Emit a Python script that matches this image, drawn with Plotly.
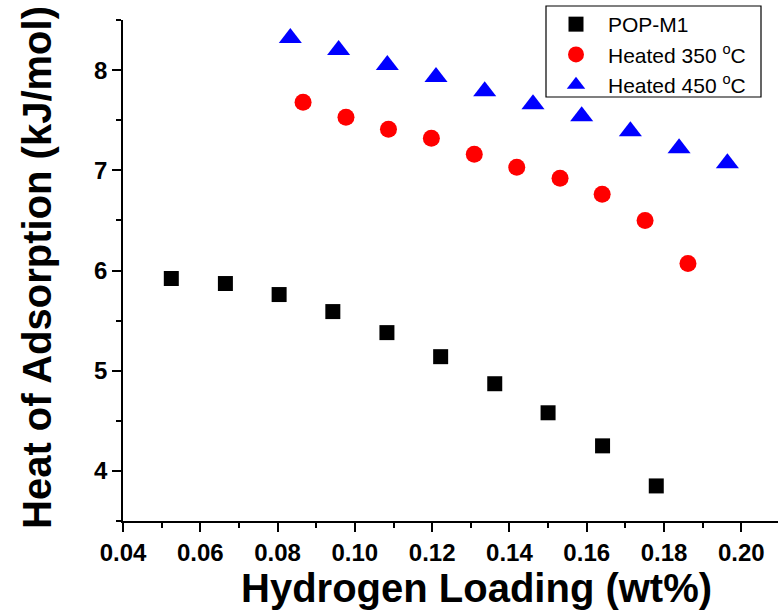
import plotly.graph_objects as go

# Hydrogen loading (wt%) and isosteric heat of adsorption (kJ/mol)
pop_x = [0.0525, 0.0665, 0.0804, 0.0943, 0.1083, 0.1222, 0.1362, 0.1500, 0.1641, 0.1780]
pop_y = [5.92, 5.87, 5.76, 5.59, 5.38, 5.14, 4.87, 4.58, 4.25, 3.85]

h350_x = [0.0866, 0.0977, 0.1087, 0.1198, 0.1309, 0.1419, 0.1531, 0.1640, 0.1751, 0.1862]
h350_y = [7.68, 7.53, 7.41, 7.32, 7.16, 7.03, 6.92, 6.76, 6.50, 6.07]

h450_x = [0.0833, 0.0958, 0.1084, 0.1210, 0.1336, 0.1461, 0.1587, 0.1713, 0.1839, 0.1964]
h450_y = [8.32, 8.20, 8.05, 7.93, 7.79, 7.66, 7.54, 7.39, 7.22, 7.07]

series_names = ["POP-M1", "Heated 350 <sup>o</sup>C", "Heated 450 <sup>o</sup>C"]
x_title = "Hydrogen Loading (wt%)"
y_title = "Heat of Adsorption (kJ/mol)"

FONT = "Liberation Sans, Arial, sans-serif"

# plot area in pixels
W, H = 778, 613
ML, MR, MT, MB = 123, 0, 20, 92
plot_w, plot_h = W - ML - MR, H - MT - MB


def px_x(p):
    return (p - ML) / plot_w


def px_y(p):
    return (H - MB - p) / plot_h


fig = go.Figure()
fig.add_trace(go.Scatter(x=pop_x, y=pop_y, mode="markers", name=series_names[0],
                         marker=dict(symbol="square", size=15, color="black", line=dict(width=0))))
fig.add_trace(go.Scatter(x=h350_x, y=h350_y, mode="markers", name=series_names[1],
                         marker=dict(symbol="circle", size=17, color="#ff0000", line=dict(width=0))))
fig.add_trace(go.Scatter(x=h450_x, y=h450_y, mode="markers", name=series_names[2],
                         marker=dict(symbol="triangle-up", size=20, color="#0000ff", line=dict(width=0))))

axis_common = dict(
    showgrid=False, zeroline=False, showline=True, linecolor="black", linewidth=1.5,
    ticks="outside", ticklen=9, tickwidth=1.5, tickcolor="black",
    tickfont=dict(family=FONT, size=24, color="black", weight="bold"),
)

fig.update_layout(
    width=W, height=H,
    margin=dict(l=ML, r=MR, t=MT, b=MB),
    paper_bgcolor="white", plot_bgcolor="white",
    font=dict(family=FONT, color="black"),
    xaxis=dict(range=[0.04, 0.2095], dtick=0.02, tick0=0.04, tickformat=".2f",
               minor=dict(dtick=0.01, ticklen=5, tickwidth=1.5, tickcolor="black", ticks="outside"),
               **axis_common),
    yaxis=dict(range=[3.5, 8.5], dtick=1, tick0=4,
               minor=dict(dtick=0.5, ticklen=5, tickwidth=1.5, tickcolor="black", ticks="outside"),
               **axis_common),
    legend=dict(x=px_x(544), y=px_y(4), xanchor="left", yanchor="top",
                font=dict(family=FONT, size=21, color="black"),
                borderwidth=0, bgcolor="rgba(0,0,0,0)",
                itemwidth=54, tracegroupgap=0),
    showlegend=True,
)

# legend frame
fig.add_shape(type="rect", xref="paper", yref="paper",
              x0=px_x(546), x1=px_x(761), y0=px_y(97), y1=px_y(6),
              line=dict(color="black", width=1.2), fillcolor="white", layer="above")

fig.add_annotation(text=x_title, xref="paper", yref="paper",
                   x=px_x(476), y=px_y(588),
                   xanchor="center", yanchor="middle", showarrow=False,
                   font=dict(family=FONT, size=40, color="black", weight="bold"))
fig.add_annotation(text=y_title, xref="paper", yref="paper", textangle=-90,
                   x=px_x(37), y=px_y(268),
                   xanchor="center", yanchor="middle", showarrow=False,
                   font=dict(family=FONT, size=40, color="black", weight="bold"))

fig.write_html("out.html")
